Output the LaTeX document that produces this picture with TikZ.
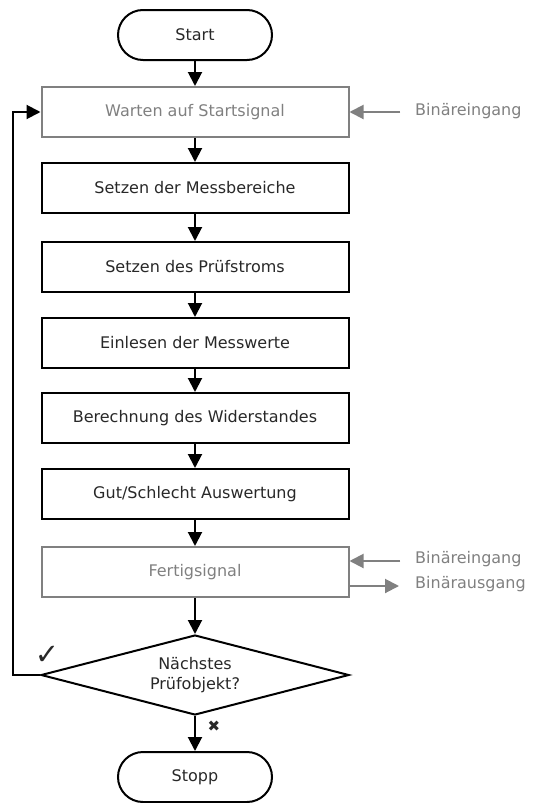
\documentclass[tikz,border=0pt]{standalone}
\usepackage{fontspec}
\setmainfont{DejaVu Sans}
\usetikzlibrary{shapes.geometric,shapes.misc,arrows.meta}
\definecolor{signalgray}{RGB}{128,128,128}
\definecolor{textdark}{RGB}{40,40,40}

\begin{document}
\begin{tikzpicture}[x=1pt,y=-1pt,
		font=\fontsize{16}{20}\selectfont,
		every node/.style={inner sep=0pt,text=textdark},
		term/.style={draw,line width=2pt,rounded rectangle,minimum width=154pt,minimum height=50pt},
		proc/.style={draw,line width=2pt,minimum width=307pt,minimum height=50pt},
		sigproc/.style={proc,draw=signalgray,text=signalgray},
		decide/.style={diamond,draw,line width=2pt,aspect=3.85,minimum width=308pt,minimum height=80pt,align=center},
		flow/.style={-{Triangle[length=14pt,width=14pt]},line width=2pt},
		sigflow/.style={flow,draw=signalgray,fill=signalgray},
		siglabel/.style={anchor=west,text=signalgray}]
		\useasboundingbox (0,0) rectangle (536,803);
		% Ablauf
		\node [term] (start) at (195,35) {Start};
		\node [sigproc] (wait) at (195,112) {Warten auf Startsignal};
		\node [proc] (range) at (195,188) {Setzen der Messbereiche};
		\node [proc] (current) at (195,267) {Setzen des Prüfstroms};
		\node [proc] (read) at (195,343) {Einlesen der Messwerte};
		\node [proc] (calc) at (195,418) {Berechnung des Widerstandes};
		\node [proc] (eval) at (195,494) {Gut/Schlecht Auswertung};
		\node [sigproc] (done) at (195,572) {Fertigsignal};
		\node [decide] (next) at (195,675) {Nächstes\\Prüfobjekt?};
		\node [term] (stop) at (195,777) {Stopp};
		\draw [flow] (start) -- (wait);
		\draw [flow] (wait) -- (range);
		\draw [flow] (range) -- (current);
		\draw [flow] (current) -- (read);
		\draw [flow] (read) -- (calc);
		\draw [flow] (calc) -- (eval);
		\draw [flow] (eval) -- (done);
		\draw [flow] (done) -- (next);
		\draw [flow] (next) -- (stop);
		\draw [flow] (next.west) -- ++(-27,0) |- (wait.west);
		\node (yes) at (47,655) {\fontsize{29}{29}\selectfont\textbf{✓}};
		\node (no) at (214,726) {\fontsize{15}{15}\selectfont ✖};
		% Signale
		\coordinate (in0) at (400,112);
		\coordinate (in1) at (400,561);
		\coordinate (out1) at (399,586);
		\draw [sigflow] (in0) -- (wait.east);
		\draw [sigflow] (in1) -- (in1 -| done.east);
		\draw [sigflow] (done.east |- out1) -- (out1);
		\node [siglabel] (lin0) at (415,111) {Binäreingang};
		\node [siglabel] (lin1) at (415,559) {Binäreingang};
		\node [siglabel] (lout1) at (415,584) {Binärausgang};
\end{tikzpicture}
\end{document}
